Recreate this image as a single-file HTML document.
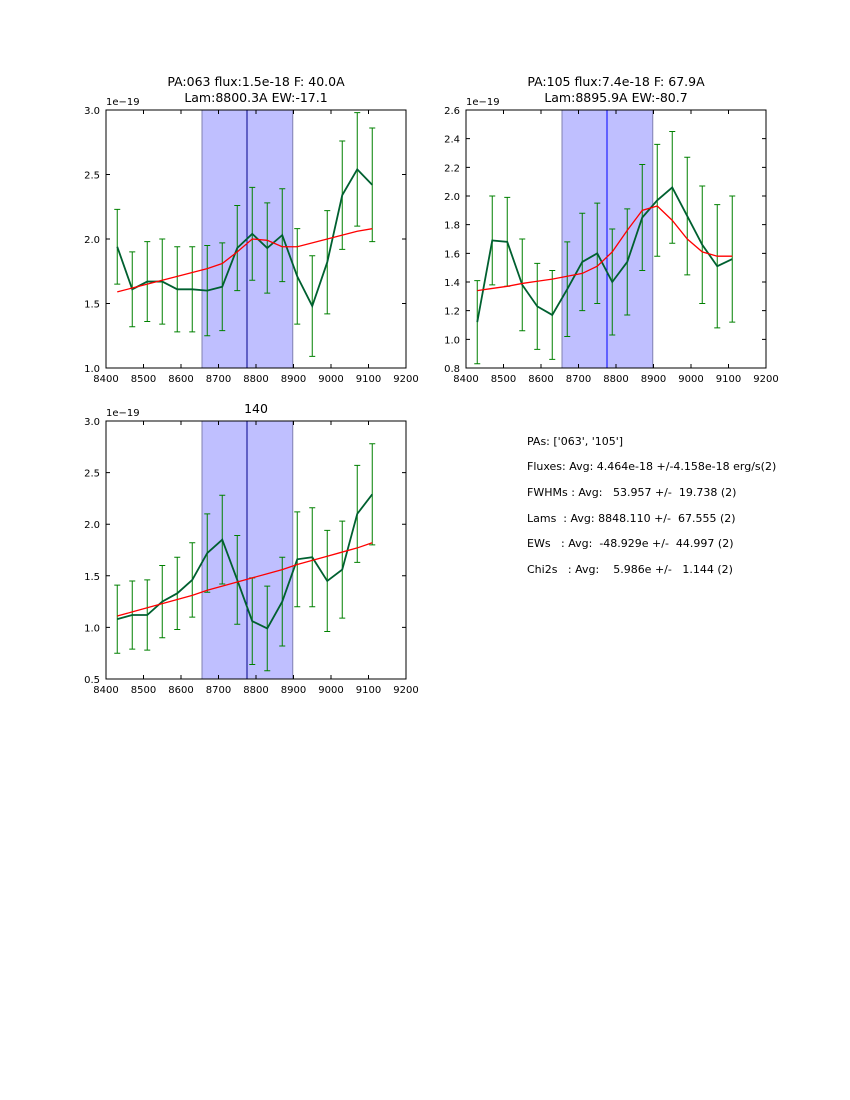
<!DOCTYPE html>
<html><head><meta charset="utf-8"><style>
body{margin:0;background:#fff;}
svg{display:block;font-family:"DejaVu Sans","Liberation Sans",sans-serif;}
</style></head><body>
<svg id="fig" width="850" height="1100" viewBox="0 0 850 1100" xmlns="http://www.w3.org/2000/svg">
<rect width="850" height="1100" fill="#fff"/>
<g font-size="11" fill="#000">
<text x="527" y="445" xml:space="preserve">PAs: ['063', '105']</text>
<text x="527" y="470" xml:space="preserve">Fluxes: Avg: 4.464e-18 +/-4.158e-18 erg/s(2)</text>
<text x="527" y="496" xml:space="preserve">FWHMs : Avg:   53.957 +/-  19.738 (2)</text>
<text x="527" y="522" xml:space="preserve">Lams  : Avg: 8848.110 +/-  67.555 (2)</text>
<text x="527" y="547" xml:space="preserve">EWs   : Avg:  -48.929e +/-  44.997 (2)</text>
<text x="527" y="573" xml:space="preserve">Chi2s   : Avg:    5.986e +/-   1.144 (2)</text>
</g>
</svg>
<script>
const waves=[8430,8470,8510,8550,8590,8630,8670,8710,8750,8790,8830,8870,8910,8950,8990,9030,9070,9110];
const xTicks=[8400,8500,8600,8700,8800,8900,9000,9100,9200];
const flux1=[1.94,1.61,1.67,1.67,1.61,1.61,1.60,1.63,1.93,2.04,1.93,2.03,1.71,1.48,1.82,2.34,2.54,2.42];
const err1=[0.29,0.29,0.31,0.33,0.33,0.33,0.35,0.34,0.33,0.36,0.35,0.36,0.37,0.39,0.40,0.42,0.44,0.44];
const fit1=[1.59,1.62,1.65,1.68,1.71,1.74,1.77,1.81,1.90,2.00,1.99,1.94,1.94,1.97,2.00,2.03,2.06,2.08];
const yTicks1=[1.0,1.5,2.0,2.5,3.0];
const flux2=[1.12,1.69,1.68,1.38,1.23,1.17,1.35,1.54,1.60,1.40,1.54,1.85,1.97,2.06,1.86,1.66,1.51,1.56];
const err2=[0.29,0.31,0.31,0.32,0.30,0.31,0.33,0.34,0.35,0.37,0.37,0.37,0.39,0.39,0.41,0.41,0.43,0.44];
const fit2=[1.34,1.355,1.37,1.39,1.405,1.42,1.44,1.46,1.51,1.61,1.76,1.90,1.93,1.83,1.70,1.61,1.58,1.58];
const yTicks2=[0.8,1.0,1.2,1.4,1.6,1.8,2.0,2.2,2.4,2.6];
const flux3=[1.08,1.12,1.12,1.25,1.33,1.46,1.72,1.85,1.46,1.06,0.99,1.25,1.66,1.68,1.45,1.56,2.10,2.29];
const err3=[0.33,0.33,0.34,0.35,0.35,0.36,0.38,0.43,0.43,0.42,0.41,0.43,0.46,0.48,0.49,0.47,0.47,0.49];
const fit3=[1.11,1.15,1.19,1.23,1.27,1.31,1.36,1.40,1.44,1.48,1.52,1.56,1.61,1.65,1.69,1.73,1.77,1.82];
const yTicks3=[0.5,1.0,1.5,2.0,2.5,3.0];
const bandLo=8656, bandHi=8898, lineW=8776;

const NS="http://www.w3.org/2000/svg";
const svg=document.getElementById('fig');
function mk(tag,attrs,parent){const e=document.createElementNS(NS,tag);for(const k in attrs)e.setAttribute(k,attrs[k]);parent.appendChild(e);return e;}

function panel(name,x0,y0,yTicks,flux,err,fit,title,lineColor){
  const W=300,H=258,xmin=8400,xmax=9200,ymin=yTicks[0],ymax=yTicks[yTicks.length-1];
  const sx=v=>x0+(v-xmin)/(xmax-xmin)*W;
  const sy=v=>y0+H-(v-ymin)/(ymax-ymin)*H;
  const g=mk('g',{},svg);
  
  
  const clip=mk('clipPath',{id:name+'-clip'},g);
  mk('rect',{x:x0,y:y0,width:W,height:H},clip);
  const band=mk('rect',{x:sx(bandLo),y:y0,width:sx(bandHi)-sx(bandLo),height:H,fill:'#bfbfff',stroke:'#8080b0','stroke-width':1},g);
  
  
  const vl=mk('line',{x1:sx(lineW),x2:sx(lineW),y1:y0,y2:y0+H,stroke:lineColor,'stroke-width':1},g);
  
  
  const cg=mk('g',{'clip-path':'url(#'+name+'-clip)'},g);
  for(let i=0;i<waves.length;i++){
    const x=sx(waves[i]),yt=sy(flux[i]+err[i]),yb=sy(flux[i]-err[i]);
    const eb=mk('path',{d:`M${x},${yt}V${yb}M${x-3},${yt}H${x+3}M${x-3},${yb}H${x+3}`,stroke:'#008000','stroke-width':1,fill:'none'},cg);
    
    
  }
  const fl=mk('polyline',{points:waves.map((w,i)=>sx(w)+','+sy(flux[i])).join(' '),stroke:'#006030','stroke-width':1.8,fill:'none'},cg);
  
  
  const ft=mk('polyline',{points:waves.map((w,i)=>sx(w)+','+sy(fit[i])).join(' '),stroke:'#ff0000','stroke-width':1.3,fill:'none'},cg);
  
  
  const fr=mk('rect',{x:x0,y:y0,width:W,height:H,fill:'none',stroke:'#000','stroke-width':1},g);
  
  
  xTicks.forEach(t=>{const x=sx(t);
    mk('path',{d:`M${x},${y0+H}v-4M${x},${y0}v4`,stroke:'#000','stroke-width':1},g);
    const tx=mk('text',{x:x,y:y0+H+14,'font-size':10,'text-anchor':'middle'},g);tx.textContent=t;
    
    
  });
  yTicks.forEach(t=>{const y=sy(t);
    mk('path',{d:`M${x0},${y}h4M${x0+W},${y}h-4`,stroke:'#000','stroke-width':1},g);
    const tx=mk('text',{x:x0-6,y:y+4,'font-size':10,'text-anchor':'end'},g);tx.textContent=t.toFixed(1);
    
    
  });
  const ex=mk('text',{x:x0,y:y0-5,'font-size':10},g);ex.textContent='1e\u221219';
  
  
  title.forEach((s,i)=>{const t=mk('text',{x:x0+W/2,y:y0-title.length*16+8+i*16,'font-size':12.5,'text-anchor':'middle'},g);t.textContent=s;
    
    
  });
}
panel('panel-pa063',106,110,yTicks1,flux1,err1,fit1,['PA:063 flux:1.5e-18 F: 40.0A','Lam:8800.3A EW:-17.1'],'#00008b');
panel('panel-pa105',466,110,yTicks2,flux2,err2,fit2,['PA:105 flux:7.4e-18 F: 67.9A','Lam:8895.9A EW:-80.7'],'#0000ff');
panel('panel-pa140',106,421,yTicks3,flux3,err3,fit3,['140'],'#00008b');
</script>
</body></html>
